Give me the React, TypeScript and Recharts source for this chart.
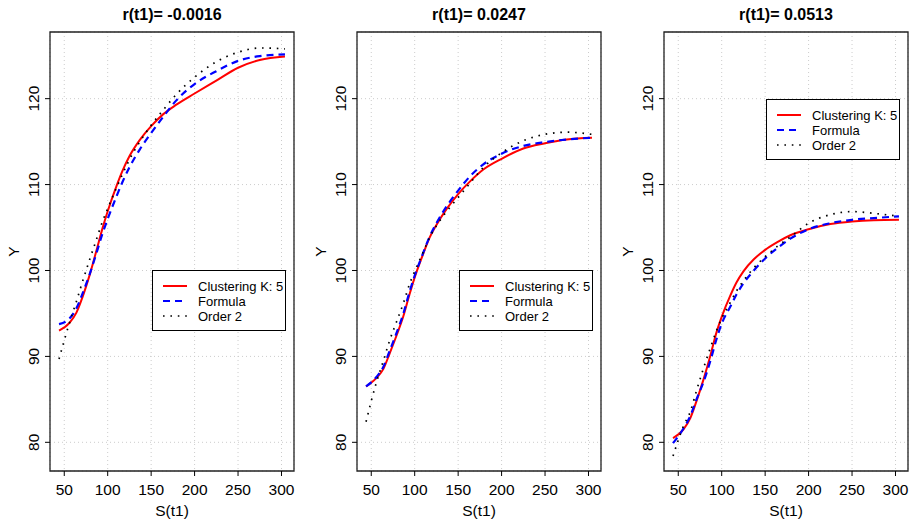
import React from 'react';
import { LineChart, Line, XAxis, YAxis, CartesianGrid, ReferenceArea, Legend } from 'recharts';

// ---------- data ----------
const S_T1 = [44, 56, 64, 71, 79, 87, 94, 100, 110, 117, 125, 137, 150, 164, 179, 200, 225, 250, 275, 304];

const CLUSTER_1 = [93.0, 93.9, 95.1, 96.9, 99.4, 102.3, 104.9, 106.9, 109.8, 111.6, 113.3, 115.2, 116.8, 118.2, 119.3, 120.6, 122.1, 123.6, 124.5, 124.9];
const FORMULA_1 = [93.75, 94.4, 95.6, 97.3, 99.5, 102.0, 104.3, 106.0, 108.6, 110.3, 112.0, 114.1, 116.0, 117.9, 119.8, 121.7, 123.2, 124.4, 124.96, 125.15];
const ORDER2_1 = [89.7, 93.9, 96.4, 98.7, 101.2, 103.6, 105.7, 107.2, 109.6, 111.2, 112.9, 115.0, 116.9, 118.7, 120.5, 122.5, 124.3, 125.4, 125.9, 125.8];

const CLUSTER_2 = [86.5, 87.5, 88.55, 90.3, 92.4, 94.7, 97.2, 99.2, 102.0, 103.8, 105.3, 107.2, 108.9, 110.4, 111.75, 113.0, 114.2, 114.8, 115.25, 115.45];
const FORMULA_2 = [86.5, 87.6, 88.8, 90.6, 92.7, 95.0, 97.5, 99.4, 102.1, 103.9, 105.5, 107.5, 109.3, 111.0, 112.35, 113.6, 114.5, 114.95, 115.25, 115.45];
const ORDER2_2 = [82.4, 87.0, 89.5, 91.8, 94.0, 96.2, 98.4, 99.9, 102.2, 103.8, 105.2, 106.9, 108.5, 110.2, 112.0, 113.7, 115.1, 115.85, 116.1, 115.85];

const CLUSTER_3 = [80.5, 81.5, 82.85, 84.8, 87.3, 90.1, 92.8, 94.6, 97.1, 98.6, 99.9, 101.3, 102.4, 103.3, 104.1, 104.8, 105.4, 105.7, 105.85, 105.9];
const FORMULA_3 = [79.9, 81.6, 83.1, 85.0, 87.0, 89.5, 92.0, 93.8, 95.8, 97.2, 98.5, 100.0, 101.4, 102.6, 103.7, 104.8, 105.5, 105.9, 106.1, 106.3];
const ORDER2_3 = [78.4, 81.9, 83.6, 86.0, 88.6, 91.0, 93.0, 94.4, 96.3, 97.6, 98.8, 100.3, 101.6, 102.8, 103.9, 105.5, 106.5, 106.85, 106.65, 106.3];

const TITLES = ['r(t1)= -0.0016', 'r(t1)= 0.0247', 'r(t1)= 0.0513'];
const SERIES_NAMES = ['Clustering K: 5', 'Formula', 'Order 2'];
const X_TICKS = [50, 100, 150, 200, 250, 300];
const Y_TICKS = [80, 90, 100, 110, 120];
const X_LABEL = 'S(t1)';
const Y_LABEL = 'Y';

// ---------- layout / style ----------
const X_DOMAIN = [33.6, 314.4];
const Y_DOMAIN = [76.66, 127.76];
const FONT = '"Liberation Sans", Arial, Helvetica, sans-serif';
const PLOT_LEFTS = [50, 357, 664];
const PLOT_W = 244;
const AXIS_W = 50;
const LEGEND_TOPS = [270, 270, 99];
const LEGEND_LEFT = 101.5;

const STYLES = [
  { color: '#ff0000', dash: undefined as string | undefined, width: 2 },
  { color: '#0000ff', dash: '7 5', width: 2.2 },
  { color: '#000000', dash: '1.6 5.8', width: 1.7 },
];

const PANELS = [
  { title: TITLES[0], series: [CLUSTER_1, FORMULA_1, ORDER2_1] },
  { title: TITLES[1], series: [CLUSTER_2, FORMULA_2, ORDER2_2] },
  { title: TITLES[2], series: [CLUSTER_3, FORMULA_3, ORDER2_3] },
];

const buildRows = (series: number[][]) =>
  S_T1.map((s, i) => ({ s, a: series[0][i], b: series[1][i], c: series[2][i] }));

const YTick = (props: any) => {
  const { x, y, payload } = props;
  return (
    <text x={x} y={y} transform={`rotate(-90 ${x} ${y})`} textAnchor="middle"
      fontSize={15.5} fill="#000" fontFamily={FONT}>
      {payload.value}
    </text>
  );
};

const YLabel = (props: any) => {
  const vb = props.viewBox || { x: 0, y: 32, width: AXIS_W, height: 439 };
  const cx = vb.x + vb.width - 37;
  const cy = vb.y + vb.height / 2;
  return (
    <text x={cx} y={cy} transform={`rotate(-90 ${cx} ${cy})`} textAnchor="middle"
      dominantBaseline="central" fontSize={15.5} fill="#000" fontFamily={FONT}>
      {Y_LABEL}
    </text>
  );
};

const XLabel = (props: any) => {
  const vb = props.viewBox || { x: 50, y: 471, width: PLOT_W, height: 53 };
  return (
    <text x={vb.x + vb.width / 2} y={vb.y + 39} textAnchor="middle"
      dominantBaseline="central" fontSize={15.5} fill="#000" fontFamily={FONT}>
      {X_LABEL}
    </text>
  );
};

const LegendBox = () => {
  const rows = [16, 31, 46];
  return (
    <svg width={134} height={61} style={{ display: 'block' }}>
      <rect x={0.5} y={0.5} width={133} height={60} fill="#fff" stroke="#000" strokeWidth={1} />
      {SERIES_NAMES.map((name, i) => (
        <g key={name}>
          <line x1={11} x2={35} y1={rows[i]} y2={rows[i]} stroke={STYLES[i].color}
            strokeWidth={STYLES[i].width} strokeDasharray={STYLES[i].dash} />
          <text x={46} y={rows[i]} dominantBaseline="central" fontSize={13}
            fontFamily={FONT} fill="#000">{name}</text>
        </g>
      ))}
    </svg>
  );
};

const Panel = ({ idx }: { idx: number }) => {
  const panel = PANELS[idx];
  const data = buildRows(panel.series);
  const plotLeft = PLOT_LEFTS[idx];
  const keys = ['a', 'b', 'c'];
  return (
    <>
      <div style={{
        position: 'absolute', left: plotLeft, top: 6.5, width: PLOT_W, height: 16,
        lineHeight: '16px', textAlign: 'center', fontFamily: FONT, fontWeight: 'bold',
        fontSize: 16, color: '#000', whiteSpace: 'nowrap',
      }}>
        {panel.title}
      </div>
      <div style={{ position: 'absolute', left: plotLeft - AXIS_W, top: 0 }}>
        <LineChart width={AXIS_W + PLOT_W + 4} height={524} data={data}
          margin={{ top: 32, right: 4, bottom: 0, left: 0 }}>
          <CartesianGrid stroke="#cccccc" strokeDasharray="1 3" strokeWidth={1} />
          <XAxis dataKey="s" type="number" domain={X_DOMAIN} ticks={X_TICKS}
            allowDataOverflow height={53} axisLine={false}
            tickLine={{ stroke: '#000' }} tickSize={5} tickMargin={7.5}
            tick={{ fontSize: 15.5, fill: '#000', fontFamily: FONT }}
            interval={0} label={<XLabel />} />
          <YAxis type="number" domain={Y_DOMAIN} ticks={Y_TICKS} allowDataOverflow
            width={AXIS_W} axisLine={false} tickLine={{ stroke: '#000' }}
            tickSize={5} tickMargin={6} tick={<YTick />} interval={0}
            label={<YLabel />} />
          <ReferenceArea x1={X_DOMAIN[0]} x2={X_DOMAIN[1]} y1={Y_DOMAIN[0]} y2={Y_DOMAIN[1]}
            fill="none" fillOpacity={0} stroke="#222" strokeWidth={1.3} ifOverflow="visible" />
          {keys.map((k, i) => (
            <Line key={k} dataKey={k} name={SERIES_NAMES[i]} type="monotone"
              stroke={STYLES[i].color} strokeWidth={STYLES[i].width}
              strokeDasharray={STYLES[i].dash} dot={false} activeDot={false}
              isAnimationActive={false} />
          ))}
          <Legend layout="vertical" align="center" verticalAlign="middle"
            wrapperStyle={{ left: AXIS_W + LEGEND_LEFT, top: LEGEND_TOPS[idx], width: 134, height: 61 }}
            content={() => <LegendBox />} />
        </LineChart>
      </div>
    </>
  );
};

export default function App() {
  return (
    <div style={{
      position: 'absolute', left: 0, top: 0, width: 909, height: 524,
      background: '#fff', overflow: 'hidden',
    }}>
      <Panel idx={0} />
      <Panel idx={1} />
      <Panel idx={2} />
    </div>
  );
}
